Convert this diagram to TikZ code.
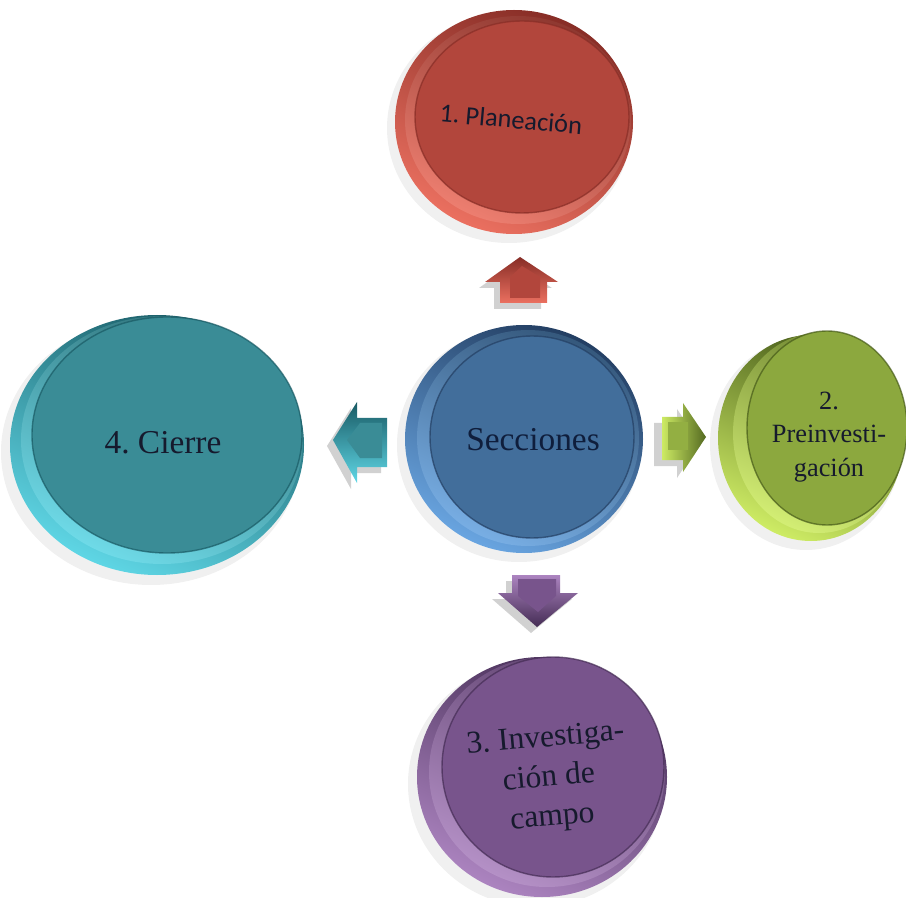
\documentclass[tikz,border=0pt]{standalone}
\usepackage{fontspec}
\setmainfont{Liberation Serif}
\newfontfamily\calfont{Carlito}
\usetikzlibrary{shapes.geometric,shadings}
\definecolor{rface}{RGB}{178,70,60}\definecolor{rlight}{RGB}{235,112,96}\definecolor{rdark}{RGB}{135,45,38}
\definecolor{bface}{RGB}{66,110,155}\definecolor{blight}{RGB}{105,165,225}\definecolor{bdark}{RGB}{35,62,98}
\definecolor{gface}{RGB}{140,168,62}\definecolor{glight}{RGB}{205,235,100}\definecolor{gdark}{RGB}{70,90,25}
\definecolor{tface}{RGB}{58,140,150}\definecolor{tlight}{RGB}{95,215,230}\definecolor{tdark}{RGB}{25,90,100}
\definecolor{pface}{RGB}{120,84,140}\definecolor{plight}{RGB}{172,132,192}\definecolor{pdark}{RGB}{68,44,84}
\definecolor{txt}{RGB}{22,26,45}
\tikzset{
  shadowdisc/.style={fill=black,opacity=0.06},
  facetext/.style={text=txt,align=center,inner sep=0pt},
  arrshadow/.style={fill=black!45,opacity=0.4}
}
\frenchspacing
\begin{document}
\begin{tikzpicture}[x=0.02cm,y=-0.02cm]
\useasboundingbox (0,0) rectangle (906,898);
\clip (0,0) rectangle (906,898);
% ---------- Planeacion (red)
\fill[shadowdisc] (509,128) ellipse [x radius=122, y radius=115];
\shade[top color=rdark, bottom color=rlight, shading angle=-25] (514,122) ellipse [x radius=119, y radius=112];
\shade[top color=rface!80!black, bottom color=rlight!90!white, shading angle=-25] (518,120) ellipse [x radius=113, y radius=104];
\draw[rdark, draw opacity=0.7, line width=0.8pt, fill=rface] (522,117) ellipse [x radius=107, y radius=96];
\node[facetext, rotate=-5, font=\calfont\fontsize{15}{18}\selectfont] (plan) at (511,119) {1. Planeación};
% ---------- Secciones (blue)
\fill[shadowdisc] (519,445) ellipse [x radius=122, y radius=117];
\shade[top color=bdark, bottom color=blight, shading angle=-25] (524,439) ellipse [x radius=119, y radius=114];
\shade[top color=bface!80!black, bottom color=blight!90!white, shading angle=-25] (528,438) ellipse [x radius=111, y radius=108];
\draw[bdark, draw opacity=0.7, line width=0.8pt, fill=bface] (532,437) ellipse [x radius=102, y radius=101];
\node[facetext, font=\fontsize{19}{22}\selectfont, text={rgb,255:red,15;green,30;blue,60}] (sec) at (533,440) {Secciones};
% ---------- Preinvestigacion (green)
\fill[shadowdisc] (806,444) ellipse [x radius=96, y radius=106];
\shade[top color=gdark, bottom color=glight, shading angle=-25] (811,438) ellipse [x radius=93, y radius=103];
\shade[top color=gface!80!black, bottom color=glight!90!white, shading angle=-25] (819,433) ellipse [x radius=86, y radius=100];
\draw[gdark, draw opacity=0.7, line width=0.8pt, fill=gface] (827,428) ellipse [x radius=80, y radius=97];
\node[facetext, font=\fontsize{15}{19}\selectfont] (pre) at (829,437) {2.\\Preinvesti-\\gación};
% ---------- Cierre (teal)
\fill[shadowdisc] (151,452) ellipse [x radius=150, y radius=133];
\shade[top color=tdark, bottom color=tlight, shading angle=-25] (157,445) ellipse [x radius=147, y radius=130];
\shade[top color=tface!80!black, bottom color=tlight!90!white, shading angle=-25] (162,440) ellipse [x radius=141, y radius=124];
\draw[tdark, draw opacity=0.7, line width=0.8pt, fill=tface] (167,435) ellipse [x radius=135, y radius=118];
\node[facetext, font=\fontsize{19}{22}\selectfont] (cie) at (163,443) {4. Cierre};
% ---------- Investigacion (purple)
\fill[shadowdisc] (536,784) ellipse [x radius=128, y radius=123];
\shade[top color=pdark, bottom color=plight, shading angle=-25] (542,777) ellipse [x radius=125, y radius=120];
\shade[top color=pface!80!black, bottom color=plight!90!white, shading angle=-25] (547,772) ellipse [x radius=118, y radius=115];
\draw[pdark, draw opacity=0.7, line width=0.8pt, fill=pface] (553,767) ellipse [x radius=111, y radius=110];
\node[facetext, rotate=5, font=\fontsize{18}{22.5}\selectfont] (inv) at (549,779) {3. Investiga-\\ción de\\campo};
% ---------- arrows
% up (red)
\fill[arrshadow] (494,309) -- (494,288) -- (479,288) -- (514,263) -- (552,288) -- (541,288) -- (541,309) -- cycle;
\shade[top color=rdark, bottom color=rlight] (500,303) -- (500,282) -- (485,282) -- (520,257) -- (558,282) -- (547,282) -- (547,303) -- cycle;
\fill[rface] (510,298) -- (510,277) -- (522,266) -- (540,277) -- (540,298) -- cycle;
% right (green)
\fill[arrshadow] (654,423) -- (677,423) -- (677,409) -- (700,443) -- (677,478) -- (677,466) -- (654,466) -- cycle;
\shade[left color=glight, right color=gdark!80!gface] (662,417) -- (683,417) -- (683,403) -- (706,437) -- (683,472) -- (683,460) -- (662,460) -- cycle;
\fill[gface!90!glight] (668,422) -- (688,422) -- (688,450) -- (668,450) -- cycle;
% left (teal)
\fill[arrshadow] (381,424) -- (351,424) -- (351,408) -- (327,446) -- (351,489) -- (351,473) -- (381,473) -- cycle;
\shade[top color=tdark, bottom color=tlight] (387,418) -- (357,418) -- (357,402) -- (333,440) -- (357,483) -- (357,467) -- (387,467) -- cycle;
\fill[tface] (382,423) -- (360,423) -- (347,440) -- (360,458) -- (382,458) -- cycle;
% down (purple)
\fill[arrshadow] (506,581) -- (554,581) -- (554,599) -- (572,599) -- (531,633) -- (492,599) -- (506,599) -- cycle;
\shade[top color=plight, bottom color=pdark] (512,575) -- (560,575) -- (560,593) -- (578,593) -- (537,627) -- (498,593) -- (512,593) -- cycle;
\fill[pface] (518,579) -- (556,579) -- (556,596) -- (538,612) -- (518,596) -- cycle;
\end{tikzpicture}
\end{document}
